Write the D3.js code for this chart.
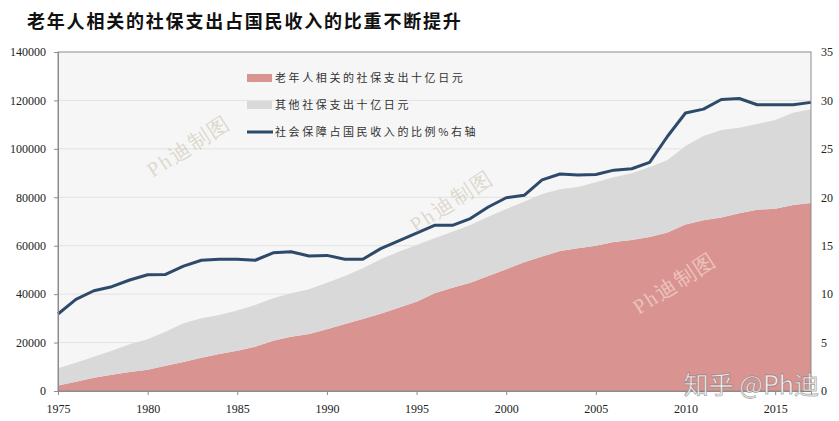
<!DOCTYPE html>
<html><head><meta charset="utf-8">
<script src="https://cdn.jsdelivr.net/npm/d3@7"></script>
<style>body{margin:0;background:#fff}svg{display:block}</style>
</head><body>
<script>
const years = d3.range(1975, 2018);
const elderly = [2300,3840,5500,6750,7850,8800,10450,12000,13750,15300,16650,18300,20800,22450,23550,25500,27700,29750,31900,34400,36900,40350,42650,44750,47500,50250,53150,55500,57800,58950,60000,61550,62350,63600,65500,68800,70500,71700,73400,74900,75300,76800,77650];
const total = [9370,11700,14170,16650,19280,21350,24500,27950,30000,31400,33200,35500,38300,40350,42000,44750,47500,50700,54400,57550,60300,63050,65800,68550,72000,75150,78200,81350,83300,84250,86200,88250,89900,92400,95400,101200,105300,107800,108750,110300,111900,114950,116350];
const other = total.map((t,i)=>t-elderly[i]);
const ratio = [7.95,9.46,10.35,10.77,11.46,12.0,12.04,12.9,13.5,13.6,13.6,13.5,14.27,14.38,13.93,14.0,13.6,13.6,14.7,15.5,16.3,17.1,17.1,17.8,19.0,19.95,20.2,21.8,22.4,22.3,22.35,22.8,22.95,23.6,26.3,28.7,29.1,30.1,30.2,29.55,29.55,29.55,29.8];
const leftTicks = [0,20000,40000,60000,80000,100000,120000,140000];
const rightTicks = [0,5,10,15,20,25,30,35];
const xTicks = [1975,1980,1985,1990,1995,2000,2005,2010,2015];
const title = "老年人相关的社保支出占国民收入的比重不断提升";
const legendLabels = ["老年人相关的社保支出十亿日元","其他社保支出十亿日元","社会保障占国民收入的比例%右轴"];
const colors = {elderly:"#d99391", other:"#d9d9d9", line:"#2d4a6b"};

const W=839,H=421;
const m={l:58,r:28,t:52,b:30};
const svg=d3.select("body").append("svg").attr("width",W).attr("height",H);
const x=d3.scaleLinear().domain([1975,2017]).range([m.l,W-m.r]);
const yL=d3.scaleLinear().domain([0,140000]).range([H-m.b,m.t]);
const yR=d3.scaleLinear().domain([0,35]).range([H-m.b,m.t]);
const serif="'Liberation Serif','Times New Roman',serif";
const cjk="'Noto Sans CJK SC','Noto Sans CJK JP',sans-serif";

svg.append("text").attr("x",27).attr("y",28).text(title)
  .attr("font-family",cjk).attr("font-weight","bold").attr("font-size",18)
  .attr("letter-spacing",1.8).attr("fill","#111");

svg.append("rect").attr("x",m.l).attr("y",m.t).attr("width",W-m.r-m.l).attr("height",H-m.b-m.t).attr("fill","#f6f6f6");
svg.append("g").selectAll("line").data(leftTicks.slice(1,-1)).join("line")
  .attr("x1",m.l).attr("x2",W-m.r).attr("y1",d=>yL(d)).attr("y2",d=>yL(d))
  .attr("stroke","#e2e2e2").attr("stroke-width",1);

const data=years.map((yr,i)=>({yr,elderly:elderly[i],other:other[i]}));
const stack=d3.stack().keys(["elderly","other"])(data);
const area=d3.area().x(d=>x(d.data.yr)).y0(d=>yL(d[0])).y1(d=>yL(d[1]));
svg.append("g").selectAll("path").data(stack).join("path")
  .attr("d",area).attr("fill",d=>colors[d.key]);

const line=d3.line().x((d,i)=>x(years[i])).y(d=>yR(d));
svg.append("path").datum(ratio).attr("d",line).attr("fill","none")
  .attr("stroke",colors.line).attr("stroke-width",3).attr("stroke-linejoin","round");

svg.append("rect").attr("x",m.l).attr("y",m.t).attr("width",W-m.r-m.l).attr("height",H-m.b-m.t)
  .attr("fill","none").attr("stroke","#8c8c8c").attr("stroke-width",1);

const axL=svg.append("g").attr("transform",`translate(${m.l},0)`).call(d3.axisLeft(yL).tickValues(leftTicks).tickFormat(d3.format("d")).tickSize(4).tickPadding(8));
const axR=svg.append("g").attr("transform",`translate(${W-m.r},0)`).call(d3.axisRight(yR).tickValues(rightTicks).tickSize(0).tickPadding(10));
const axB=svg.append("g").attr("transform",`translate(0,${H-m.b})`).call(d3.axisBottom(x).tickValues(xTicks).tickFormat(d3.format("d")).tickSize(4).tickPadding(9));
[axL,axR,axB].forEach(a=>{
  a.select(".domain").attr("stroke","#8c8c8c");
  a.selectAll(".tick line").attr("stroke","#8c8c8c");
  a.selectAll("text").attr("font-family",serif).attr("font-size",12).attr("fill","#222");
});
axR.select(".domain").remove();

const lg=svg.append("g");
const rows=[{c:colors.elderly,t:"rect"},{c:colors.other,t:"rect"},{c:colors.line,t:"line"}];
rows.forEach((r,i)=>{
  const yy=78+i*27;
  if(r.t==="rect") lg.append("rect").attr("x",247).attr("y",yy-4).attr("width",25).attr("height",8).attr("fill",r.c);
  else lg.append("line").attr("x1",247).attr("x2",273).attr("y1",yy).attr("y2",yy).attr("stroke",r.c).attr("stroke-width",3);
  lg.append("text").attr("x",275).attr("y",yy+4).text(legendLabels[i])
    .attr("font-family",cjk).attr("font-size",11).attr("letter-spacing",2.6).attr("fill","#333");
});

const wm=[{x:190,y:148,c:"rgba(190,180,150,0.45)"},{x:453,y:203,c:"rgba(190,180,150,0.45)"},{x:676,y:285,c:"rgba(255,235,225,0.55)"}];
wm.forEach(w=>{
  svg.append("text").attr("transform",`translate(${w.x},${w.y}) rotate(-33)`)
    .attr("text-anchor","middle").attr("dominant-baseline","middle")
    .attr("font-family","'Liberation Serif',serif").attr("font-size",21).attr("letter-spacing",2)
    .attr("fill",w.c).text("Ph迪制图");
});
svg.append("text").attr("x",819).attr("y",394).attr("text-anchor","end")
  .attr("font-family",cjk).attr("font-size",25).attr("fill","rgba(255,255,255,0.92)")
  .attr("stroke","rgba(110,110,110,0.55)").attr("stroke-width",0.9).text("知乎 @Ph迪");
</script>
</body></html>
